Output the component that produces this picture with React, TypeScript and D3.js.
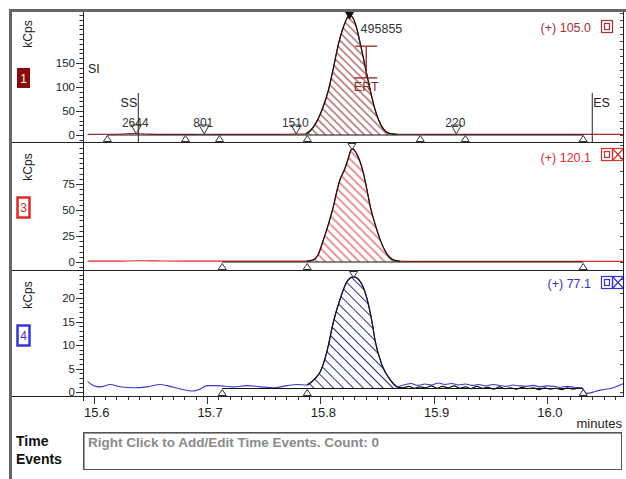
import React from "react";
import * as d3 from "d3";

// ---------- data ----------
const X_TICKS = [15.6, 15.7, 15.8, 15.9, 16.0];
const X_TICK_LABELS = ["15.6", "15.7", "15.8", "15.9", "16.0"];

const P1_TICKS = [0, 50, 100, 150];
const P2_TICKS = [0, 25, 50, 75];
const P3_TICKS = [0, 5, 10, 15, 20];

const TRACE_IDS = ["1", "3", "4"];
const MASS_LABELS = ["(+) 105.0", "(+) 120.1", "(+) 77.1"];

// trace 1 (kCps)
const P1_TIMES = [15.5945, 15.605, 15.615, 15.625, 15.632, 15.6375, 15.643, 15.65, 15.665, 15.68, 15.69, 15.6975, 15.705, 15.72, 15.74, 15.76, 15.772, 15.7787, 15.787, 15.794, 15.8014, 15.8072, 15.8117, 15.8161, 15.8205, 15.8258, 15.8308, 15.8352, 15.8396, 15.844, 15.8484, 15.8544, 15.8617, 15.868, 15.88, 15.9, 15.915, 15.92, 15.925, 15.95, 15.98, 16.01, 16.04, 16.068];
const P1_VALUES = [1.2, 1.2, 1.5, 2.2, 2.8, 3.0, 2.6, 1.8, 1.3, 1.2, 1.4, 1.6, 1.3, 1.2, 1.2, 1.3, 1.6, 2.0, 2, 17, 52, 94, 142, 191, 226, 250, 233, 191, 142, 94, 52, 17, 3, 1.5, 1.5, 1.3, 1.4, 1.6, 1.4, 1.2, 1.2, 1.2, 1.2, 1.2];

// trace 3 (kCps)
const P2_TIMES = [15.5945, 15.62, 15.64, 15.66, 15.68, 15.7, 15.72, 15.74, 15.76, 15.78, 15.788, 15.7937, 15.798, 15.8026, 15.807, 15.8114, 15.815, 15.8176, 15.821, 15.8245, 15.8279, 15.831, 15.8345, 15.8379, 15.841, 15.8441, 15.849, 15.8529, 15.858, 15.8643, 15.87, 15.88, 15.9, 15.95, 16.0, 16.03, 16.068];
const P2_VALUES = [0.8, 0.8, 1.2, 1.0, 0.8, 0.8, 0.8, 0.8, 0.8, 0.8, 0.8, 2, 7, 21, 36, 53, 70, 80, 88, 99, 109, 106, 98, 86, 70, 53, 34, 21, 9, 2, 0.8, 0.6, 0.6, 0.6, 0.6, 0.6, 0.6];

// trace 4 (kCps)
const P3_TIMES = [15.5945, 15.6, 15.6057, 15.6146, 15.6234, 15.6351, 15.647, 15.6587, 15.6646, 15.6763, 15.6881, 15.694, 15.6999, 15.7087, 15.7234, 15.7352, 15.747, 15.7587, 15.7705, 15.7793, 15.7882, 15.7955, 15.7999, 15.8058, 15.8116, 15.8176, 15.8235, 15.8293, 15.8352, 15.8411, 15.8455, 15.8485, 15.8544, 15.8617, 15.8676, 15.875, 15.88, 15.886, 15.892, 15.898, 15.904, 15.91, 15.916, 15.922, 15.928, 15.934, 15.94, 15.946, 15.952, 15.958, 15.964, 15.97, 15.976, 15.982, 15.988, 15.994, 16.0, 16.006, 16.012, 16.018, 16.024, 16.03, 16.0353, 16.047, 16.0585, 16.068];
const P3_VALUES = [2.2, 1.35, 1.1, 1.6, 1.1, 0.9, 1.1, 1.6, 1.35, 0.65, 0.2, 0.65, 1.35, 1.35, 1.1, 1.35, 1.1, 0.9, 1.35, 1.6, 1.5, 2.9, 4.3, 8.6, 15, 19.9, 23.5, 24.5, 23.5, 19.9, 15, 10.7, 5.7, 2.6, 1.1, 1.6, 1.8, 1.4, 1.7, 1.5, 1.9, 1.6, 1.8, 1.5, 1.7, 1.4, 1.6, 1.3, 1.6, 1.4, 1.2, 1.5, 1.3, 1.2, 1.4, 1.1, 1.3, 1.2, 1.0, 1.2, 1.0, 0.9, -0.3, 0.4, 0.9, 1.85];
const P3_TAIL_TIMES = [15.8676, 15.873, 15.878, 15.883, 15.888, 15.893, 15.898, 15.903, 15.908, 15.913, 15.918, 15.923, 15.928, 15.933, 15.938, 15.943, 15.948, 15.953, 15.958, 15.963, 15.968, 15.973, 15.978, 15.983, 15.988, 15.993, 15.998, 16.003, 16.008, 16.013, 16.018, 16.023, 16.028, 16.032];
const P3_TAIL_VALUES = [1.1, 0.9, 1.2, 0.8, 1.1, 0.9, 1.3, 0.8, 1.2, 0.9, 1.3, 0.8, 1.1, 0.7, 1.2, 0.8, 1.0, 0.6, 1.1, 0.7, 0.9, 0.6, 1.0, 0.7, 0.9, 0.5, 0.9, 0.6, 0.8, 0.5, 0.9, 0.6, 0.8, 0.75];

// integration markers
const P1_BOUNDS = [15.612, 15.681, 15.711, 15.7885, 15.8882, 15.928, 16.032];
const P2_BOUNDS = [15.7134, 15.7884, 16.032];
const P3_BOUNDS = [15.7134, 15.7884, 16.032];
const P1_APEX_TIMES = [15.6375, 15.6975, 15.7787, 15.92];
const P1_APEX_LABELS = ["2644", "801", "1510", "220"];
const PEAK_START = [15.787, 15.788, 15.7882];
const PEAK_END = [15.87, 15.87, 15.8676];
const PEAK_APEX = [15.8258, 15.8279, 15.8293];
const PEAK_BASE = [0, 0, 0.75];
const MAIN_PEAK_LABEL = "495855";
const SS_TIME = 15.6393;
const ES_TIME = 16.04;
const ERT_TIME = 15.8405;
const ERT_RANGE = [119, 185];

// ---------- layout ----------
const PLOT_L = 83;
const PLOT_R = 624;
const X_AXIS_Y = 396;
const FONT = "'Liberation Sans', Arial, sans-serif";

const panels = [
  { top: 12, bottom: 142, zero: 135, ppu: 0.48, minor: 10, rstep: 15, ticks: P1_TICKS, times: P1_TIMES, values: P1_VALUES, color: "#a52828", hatch: "#8e2222", label: "#a83030", bounds: P1_BOUNDS, badge: "fill" },
  { top: 143, bottom: 270, zero: 262, ppu: 1.04, minor: 5, rstep: 12.5, ticks: P2_TICKS, times: P2_TIMES, values: P2_VALUES, color: "#e02828", hatch: "#d03030", label: "#d43030", bounds: P2_BOUNDS, badge: "box" },
  { top: 271, bottom: 396, zero: 392, ppu: 4.7, minor: 1, rstep: 3, ticks: P3_TICKS, times: P3_TIMES, values: P3_VALUES, color: "#3838d0", hatch: "#2a2a8a", label: "#3434c8", bounds: P3_BOUNDS, badge: "box" },
];

const x = d3.scaleLinear().domain([15.5905, 16.068]).range([PLOT_L, PLOT_R]);

function triPath(cx: number, baseY: number, w: number, h: number, up: boolean) {
  const tipY = up ? baseY - h : baseY + h;
  return `M${cx - w / 2},${baseY}L${cx + w / 2},${baseY}L${cx},${tipY}Z`;
}

export default function App() {
  const minorX = d3.range(15.59, 16.07, 0.01).map((v) => Math.round(v * 100) / 100).filter((v) => x(v) >= PLOT_L && x(v) <= PLOT_R);
  return (
    <svg width={626} height={479} style={{ position: "absolute", left: 0, top: 0, display: "block", background: "#fff" }} fontFamily={FONT}>
      <defs>
        {panels.map((p, i) => {
          const s = [5.5, 6, 7][i];
          return (
            <pattern key={i} id={`hatch${i}`} width={s} height={s} patternUnits="userSpaceOnUse" patternTransform="rotate(-45)">
              <line x1={s / 2} y1={0} x2={s / 2} y2={s} stroke={p.hatch} strokeWidth={1} />
            </pattern>
          );
        })}
      </defs>
      <rect x={0} y={0} width={626} height={479} fill="#fff" />

      {panels.map((p, i) => {
        const y = d3.scaleLinear().domain([-(p.bottom - p.zero) / p.ppu, (p.zero - p.top) / p.ppu]).range([p.bottom, p.top]);
        const [dmin, dmax] = y.domain();
        const pts = p.times.map((t, k) => [t, p.values[k]] as [number, number]);
        const line = d3.line<[number, number]>().x((d) => x(d[0])).y((d) => y(d[1])).curve(d3.curveMonotoneX);
        const base = PEAK_BASE[i];
        const peakPts = pts.filter((d) => d[0] >= PEAK_START[i] - 1e-6 && d[0] <= PEAK_END[i] + 1e-6);
        const area = d3.area<[number, number]>().x((d) => x(d[0])).y0(y(base)).y1((d) => y(Math.max(d[1], base))).curve(d3.curveMonotoneX);
        const minorTicks = d3.range(Math.ceil(dmin / p.minor) * p.minor, dmax, p.minor);
        const rightTicks = d3.range(0, dmax, p.rstep);
        const blackFrom = p.bounds[0];
        const blackTo = p.bounds[p.bounds.length - 1];
        const apexX = x(PEAK_APEX[i]);
        const kcY = (p.top + 22) + (i === 0 ? 0 : 2);
        return (
          <g key={i}>
            {/* separator */}
            <line x1={11} x2={PLOT_R} y1={p.bottom + 0.5} y2={p.bottom + 0.5} stroke="#222" strokeWidth={1} />
            {/* y ticks */}
            {minorTicks.map((v, k) => (
              <line key={k} x1={PLOT_L - 3.5} x2={PLOT_L} y1={Math.round(y(v)) + 0.5} y2={Math.round(y(v)) + 0.5} stroke="#333" />
            ))}
            {p.ticks.map((v, k) => (
              <g key={k}>
                <line x1={PLOT_L - 7} x2={PLOT_L} y1={Math.round(y(v)) + 0.5} y2={Math.round(y(v)) + 0.5} stroke="#333" />
                <text x={PLOT_L - 8} y={y(v) + 4} fontSize={11.5} textAnchor="end" fill="#222">{v}</text>
              </g>
            ))}
            {rightTicks.map((v, k) => (
              <line key={k} x1={PLOT_R - 4} x2={PLOT_R} y1={Math.round(y(v)) + 0.5} y2={Math.round(y(v)) + 0.5} stroke="#444" />
            ))}
            {/* kCps label */}
            <text transform={`translate(32,${kcY}) rotate(-90)`} fontSize={12} textAnchor="middle" fill="#222">kCps</text>
            {/* badge */}
            {p.badge === "fill" ? (
              <g>
                <rect x={17} y={p.top + 56} width={13} height={20} fill="#8b0a0a" />
                <text x={23.5} y={p.top + 71} fontSize={12} textAnchor="middle" fill="#fff">{TRACE_IDS[i]}</text>
              </g>
            ) : (
              <g>
                <rect x={17.5} y={p.top + 54.5} width={12} height={20} fill="#fff" stroke={p.color} strokeWidth={2.5} />
                <text x={23.5} y={p.top + 69} fontSize={12} textAnchor="middle" fill={p.color}>{TRACE_IDS[i]}</text>
              </g>
            )}
            {/* mass label + icons */}
            <text x={591} y={p.top + (i === 0 ? 20 : i === 1 ? 19 : 17)} fontSize={12.5} textAnchor="end" fill={p.label}>{MASS_LABELS[i]}</text>
            <g stroke={p.label} fill="none" strokeWidth={1.2}>
              <rect x={601.5} y={p.top + (i === 0 ? 8.5 : 5.5)} width={11} height={12} />
              <rect x={604.5} y={p.top + (i === 0 ? 11.5 : 8.5)} width={5} height={6} />
              {i > 0 && (
                <g>
                  <rect x={612.5} y={p.top + 5.5} width={11} height={12} />
                  <line x1={612.5} y1={p.top + 5.5} x2={623.5} y2={p.top + 17.5} />
                  <line x1={623.5} y1={p.top + 5.5} x2={612.5} y2={p.top + 17.5} />
                </g>
              )}
            </g>
            {/* trace */}
            <path d={line(pts) || ""} fill="none" stroke={p.color} strokeWidth={1.1} />
            {/* hatched peak */}
            <path d={area(peakPts) || ""} fill={`url(#hatch${i})`} stroke="none" />
            {/* baseline */}
            <line x1={x(blackFrom)} x2={x(blackTo)} y1={y(base)} y2={y(base)} stroke="#111" strokeWidth={1.2} />
            {/* black outline of integrated peak */}
            <path d={line(peakPts) || ""} fill="none" stroke="#111" strokeWidth={1.2} />
            {i === 2 && (
              <path d={line(P3_TAIL_TIMES.map((t, k) => [t, P3_TAIL_VALUES[k]] as [number, number])) || ""} fill="none" stroke="#111" strokeWidth={1.2} />
            )}
            {/* boundary markers */}
            {p.bounds.map((t, k) => (
              <path key={k} d={triPath(x(t), p.bottom - 0.5, 8, 6, true)} fill="#fff" stroke="#333" strokeWidth={1} />
            ))}
            {/* apex marker */}
            {i === 0 ? (
              <path d={triPath(apexX, p.top, 8, 7, false)} fill="#111" stroke="#111" />
            ) : (
              <path d={triPath(apexX, p.top + 0.5, 8, 6, false)} fill="#fff" stroke="#333" />
            )}
          </g>
        );
      })}

      {/* panel-1 annotations */}
      {(() => {
        const p = panels[0];
        const y = d3.scaleLinear().domain([-(p.bottom - p.zero) / p.ppu, (p.zero - p.top) / p.ppu]).range([p.bottom, p.top]);
        const ex = x(ERT_TIME);
        return (
          <g>
            {P1_APEX_TIMES.map((t, k) => (
              <g key={k}>
                <path d={triPath(x(t), y(0) - 10, 10, 9, false)} fill="#fff" stroke="#333" />
                <text x={x(t) - 1} y={y(0) - 8} fontSize={12} textAnchor="middle" fill="#333">{P1_APEX_LABELS[k]}</text>
              </g>
            ))}
            <text x={x(PEAK_APEX[0]) + 11} y={33} fontSize={12.5} fill="#333">{MAIN_PEAK_LABEL}</text>
            <text x={88} y={73} fontSize={12.5} fill="#222">SI</text>
            <line x1={x(SS_TIME)} x2={x(SS_TIME)} y1={93} y2={p.bottom} stroke="#222" />
            <text x={x(SS_TIME) - 1} y={107} fontSize={12.5} textAnchor="end" fill="#222">SS</text>
            <line x1={x(ES_TIME)} x2={x(ES_TIME)} y1={93} y2={p.bottom} stroke="#222" />
            <text x={x(ES_TIME) + 1} y={107} fontSize={12.5} fill="#222">ES</text>
            <g stroke="#8b2525" strokeWidth={1.3}>
              <line x1={ex - 11} x2={ex + 11} y1={y(ERT_RANGE[1])} y2={y(ERT_RANGE[1])} />
              <line x1={ex} x2={ex} y1={y(ERT_RANGE[1])} y2={y(ERT_RANGE[0])} />
              <line x1={ex - 12} x2={ex + 11} y1={y(ERT_RANGE[0])} y2={y(ERT_RANGE[0])} />
            </g>
            <text x={ex} y={y(ERT_RANGE[0]) + 13} fontSize={12.5} textAnchor="middle" fill="#8b2525">ERT</text>
          </g>
        );
      })()}

      {/* frame */}
      <line x1={10.5} x2={626} y1={10.5} y2={10.5} stroke="#666" strokeWidth={3} />
      <line x1={10.5} x2={10.5} y1={9} y2={479} stroke="#666" strokeWidth={3} />
      <line x1={PLOT_L + 0.5} x2={PLOT_L + 0.5} y1={12} y2={X_AXIS_Y + 5} stroke="#222" />
      <line x1={PLOT_R - 0.5} x2={PLOT_R - 0.5} y1={12} y2={X_AXIS_Y} stroke="#222" />

      {/* x axis */}
      <line x1={PLOT_L} x2={PLOT_R} y1={X_AXIS_Y + 0.5} y2={X_AXIS_Y + 0.5} stroke="#222" />
      {minorX.map((v, k) => (
        <line key={k} x1={Math.round(x(v)) + 0.5} x2={Math.round(x(v)) + 0.5} y1={X_AXIS_Y} y2={X_AXIS_Y + 4} stroke="#333" />
      ))}
      {X_TICKS.map((v, k) => (
        <g key={k}>
          <line x1={Math.round(x(v)) + 0.5} x2={Math.round(x(v)) + 0.5} y1={X_AXIS_Y} y2={X_AXIS_Y + 8} stroke="#333" />
          <text x={x(v) + 3} y={417} fontSize={13} textAnchor="middle" fill="#222">{X_TICK_LABELS[k]}</text>
        </g>
      ))}
      <text x={622} y={428} fontSize={13} textAnchor="end" fill="#222">minutes</text>

      {/* time events */}
      <text x={16} y={446} fontSize={14} fontWeight="bold" fill="#111">Time</text>
      <text x={16} y={464} fontSize={14} fontWeight="bold" fill="#111">Events</text>
      <rect x={83.5} y={432.5} width={538} height={37} fill="#fff" stroke="#555" strokeWidth={1} />
      <line x1={84} x2={621} y1={433.5} y2={433.5} stroke="#999" />
      <line x1={84.5} x2={84.5} y1={433} y2={469} stroke="#999" />
      <text x={88} y={447} fontSize={13.5} fontWeight="bold" fill="#8a8a8a">Right Click to Add/Edit Time Events.  Count: 0</text>
    </svg>
  );
}
